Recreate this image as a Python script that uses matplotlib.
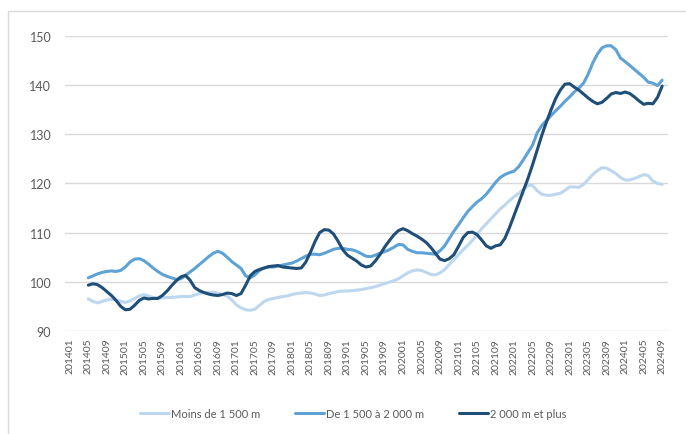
import matplotlib
matplotlib.use("Agg")
import matplotlib.pyplot as plt
from matplotlib.patches import Rectangle

# monthly periods, 201401 .. 202409
periods = [f"{y}{m:02d}" for y in range(2014, 2025) for m in range(1, 13)]
periods = periods[: periods.index("202409") + 1]
first = periods.index("201405")

moins_1500 = [
    96.5, 96.0, 95.7, 96.0, 96.3, 96.4, 96.3, 96.0, 95.8, 96.1,
    96.6, 97.1, 97.4, 97.1, 96.8, 96.7, 96.7, 96.8, 96.8, 96.9,
    97.0, 97.0, 97.0, 97.3, 97.6, 97.8, 97.8, 97.9, 97.7, 97.4,
    97.1, 96.3, 95.3, 94.7, 94.3, 94.2, 94.4, 95.2, 96.0, 96.4,
    96.6, 96.8, 97.0, 97.1, 97.4, 97.6, 97.7, 97.8, 97.7, 97.5,
    97.2, 97.3, 97.6, 97.8, 98.0, 98.1, 98.1, 98.2, 98.3, 98.4,
    98.6, 98.8, 99.0, 99.3, 99.6, 99.9, 100.2, 100.6, 101.2, 101.8,
    102.2, 102.4, 102.3, 101.9, 101.5, 101.4, 101.8, 102.5, 103.5, 104.5,
    105.5, 106.5, 107.4, 108.4, 109.6, 110.8, 111.8, 112.8, 113.8, 114.8,
    115.6, 116.5, 117.3, 118.0, 118.8, 119.6, 119.6, 118.5, 117.8, 117.6,
    117.6, 117.8, 118.0, 118.6, 119.3, 119.3, 119.2, 119.8, 120.8, 121.8,
    122.6, 123.2, 123.1, 122.6, 122.0, 121.2, 120.7, 120.7, 121.0, 121.4,
    121.8, 121.6, 120.5, 120.0, 119.8,
]

de_1500_2000 = [
    100.8, 101.2, 101.6, 101.9, 102.1, 102.2, 102.1, 102.3, 103.0, 104.0,
    104.6, 104.7, 104.3, 103.6, 102.8, 102.1, 101.5, 101.1, 100.8, 100.5,
    100.6, 101.3, 102.0, 102.7, 103.5, 104.3, 105.1, 105.8, 106.2, 105.8,
    105.0, 104.1, 103.4, 102.7, 101.2, 100.8, 101.4, 102.3, 102.8, 103.0,
    103.0, 103.2, 103.4, 103.6, 103.8, 104.2, 104.7, 105.2, 105.6, 105.6,
    105.5, 105.8, 106.2, 106.6, 106.8, 106.8, 106.6, 106.5, 106.2, 105.7,
    105.2, 105.1, 105.4, 105.8, 106.1, 106.5, 107.0, 107.6, 107.5, 106.6,
    106.2, 105.9, 105.9, 105.8, 105.7, 105.6, 106.3, 107.3, 108.8, 110.3,
    111.6, 113.0, 114.3, 115.3, 116.2, 116.9, 117.8, 119.0, 120.2, 121.2,
    121.8, 122.2, 122.5, 123.4, 124.8, 126.3, 127.8, 130.3, 131.8, 132.8,
    133.8, 134.8, 135.7, 136.7, 137.6, 138.6, 139.4, 140.4, 142.2, 144.5,
    146.3, 147.6, 148.0, 148.0, 147.2, 145.5, 144.8, 144.0, 143.2, 142.4,
    141.6, 140.6, 140.4, 139.9, 141.0,
]

plus_2000 = [
    99.3, 99.6, 99.4, 98.8, 98.0, 97.2, 96.2, 95.0, 94.3, 94.4,
    95.2, 96.2, 96.7, 96.5, 96.6, 96.6, 97.2, 98.1, 99.2, 100.2,
    101.0, 101.3, 100.3, 98.8, 98.2, 97.8, 97.5, 97.3, 97.2, 97.4,
    97.7, 97.6, 97.2, 97.6, 99.3, 101.2, 102.1, 102.5, 102.8, 103.1,
    103.2, 103.3, 103.0, 102.9, 102.8, 102.7, 102.8, 104.0, 106.0, 108.2,
    110.0, 110.6, 110.5, 109.7, 108.2, 106.5, 105.4, 104.8, 104.2, 103.4,
    103.0, 103.2, 104.2, 105.5, 107.0, 108.3, 109.5, 110.4, 110.8, 110.4,
    109.8, 109.3, 108.7, 108.0, 107.0, 105.8, 104.6, 104.3, 104.7, 105.5,
    107.2, 109.0, 110.0, 110.1, 109.6, 108.5, 107.3, 106.8, 107.3, 107.5,
    108.8, 111.0, 113.5, 116.0, 118.5, 121.0, 123.8, 126.8, 129.8, 132.5,
    135.0, 137.3, 139.0, 140.2, 140.3, 139.6, 139.0, 138.2, 137.4, 136.7,
    136.2, 136.5, 137.3, 138.2, 138.5, 138.3, 138.6, 138.3, 137.6, 136.8,
    136.1, 136.3, 136.2, 137.5, 139.8,
]

labels = ["Moins de 1 500 m", "De 1 500 à 2 000 m", "2 000 m et plus"]
colors = ["#bdd7ee", "#5ea2d6", "#1f4e79"]

plt.rcParams["font.family"] = ["Lato", "DejaVu Sans"]

fig = plt.figure(figsize=(6.86, 4.35), dpi=100)
ax = fig.add_axes([0.095, 0.237, 0.879, 0.678])

x = list(range(first, len(periods)))
for series, label, color in zip([moins_1500, de_1500_2000, plus_2000], labels, colors):
    ax.plot(x, series, color=color, lw=2.2, label=label, solid_capstyle="round")

ax.set_ylim(90, 150)
ax.set_yticks(range(90, 151, 10))
ax.set_xlim(-1, 129.3)
ticks = list(range(0, len(periods), 4))
ax.set_xticks(ticks)
ax.set_xticklabels([periods[i] for i in ticks], rotation=90, fontsize=7.5, color="#595959")
ax.tick_params(axis="y", labelsize=9, labelcolor="#595959", length=0, pad=10)
ax.tick_params(axis="x", length=0, pad=5)
ax.grid(axis="y", color="#d9d9d9", lw=1)
ax.set_axisbelow(True)
for s in ax.spines.values():
    s.set_visible(False)

fig.legend(loc="lower center", bbox_to_anchor=(0.515, 0.012), ncol=3, frameon=False,
           fontsize=8, labelcolor="#595959", handlelength=2.6, columnspacing=3.1,
           handletextpad=0.2)

# light frame of the chart area
fig.patches.append(Rectangle((8 / 686, -0.1), 1.2, 1.1 - 12 / 435, transform=fig.transFigure,
                             fill=False, edgecolor="#d9d9d9", lw=1))

fig.savefig("out.png", dpi=100)
